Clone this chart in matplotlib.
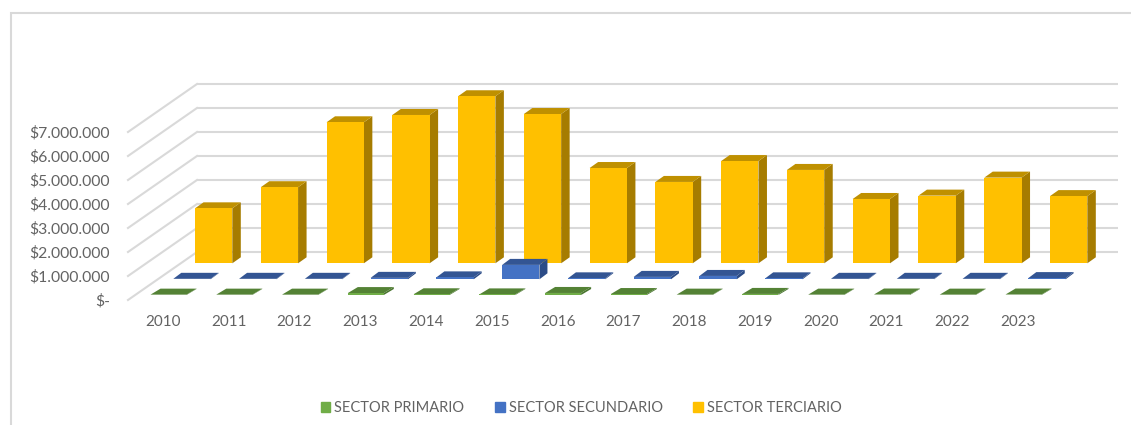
import matplotlib
matplotlib.use("Agg")
import matplotlib.pyplot as plt
from matplotlib.lines import Line2D
from matplotlib.patches import Patch

years = ["2010", "2011", "2012", "2013", "2014", "2015", "2016",
         "2017", "2018", "2019", "2020", "2021", "2022", "2023"]
primario = [15000, 15000, 15000, 80000, 30000, 25000, 85000,
            40000, 15000, 45000, 15000, 20000, 15000, 20000]
secundario = [20000, 20000, 20000, 60000, 80000, 600000, 40000,
              100000, 140000, 40000, 20000, 20000, 20000, 50000]
terciario = [2290000, 3170000, 5875000, 6180000, 6960000, 6220000, 3970000,
             3390000, 4260000, 3890000, 2680000, 2820000, 3570000, 2800000]
y_ticks = [0, 1000000, 2000000, 3000000, 4000000, 5000000, 6000000, 7000000]
y_labels = ["$-", "$1.000.000", "$2.000.000", "$3.000.000",
            "$4.000.000", "$5.000.000", "$6.000.000", "$7.000.000"]

W, H = 1131, 425
PX_X = 65.77            # pixels per category
PX_Y = 24 / 1e6         # pixels per currency unit
GRAY = "#636363"
GRID = "#D9D9D9"
plt.rcParams["font.family"] = ["Lato", "DejaVu Sans"]

fig = plt.figure(figsize=(W / 100, H / 100), dpi=100)
L, R, T, B = 128, 1118, 84, 300
ax = fig.add_axes([L / W, 1 - B / H, (R - L) / W, (B - T) / H])
ax.set_xlim((L - 163) / PX_X, (R - 163) / PX_X)
ax.set_ylim(0, (B - T) / PX_Y)
ax.patch.set_alpha(0)
for s in ax.spines.values():
    s.set_visible(False)


def ox(p):
    return p / PX_X


def oy(p):
    return p / PX_Y


# walls
x0, x1 = ax.get_xlim()
for v in y_ticks:
    ax.plot([x0 + ox(69), x1], [v + oy(48)] * 2, color=GRID, lw=1.5, zorder=1,
            solid_capstyle="butt", clip_on=False)
    ax.plot([x0, x0 + ox(69)], [v, v + oy(48)], color=GRID, lw=1.5, zorder=1,
            clip_on=False)


def bar3d(i, v, shift, base, ddx, ddy, width, cols, z):
    xl = i + ox(shift)
    xr = xl + ox(width)
    y0 = oy(base)
    y1 = y0 + v
    dx, dy = ox(ddx), oy(ddy)
    ax.fill([xr, xr + dx, xr + dx, xr], [y0, y0 + dy, y1 + dy, y1],
            color=cols[2], lw=0, zorder=z)
    ax.fill([xl, xr, xr + dx, xl + dx], [y1, y1, y1 + dy, y1 + dy],
            color=cols[1], lw=0, zorder=z)
    ax.fill([xl, xr, xr, xl], [y0, y0, y1, y1], color=cols[0], lw=0, zorder=z)


Y_COL = ("#FFC000", "#BF9000", "#A67C00")
B_COL = ("#4472C4", "#335593", "#2C4C87")
G_COL = ("#70AD47", "#548235", "#4A7530")
for i, v in enumerate(terciario):
    bar3d(i, v, 32, 36.7, 8.5, 6, 37.3, Y_COL, 3)
for i, v in enumerate(secundario):
    bar3d(i, v, 10.3, 20.7, 8, 6, 37.3, B_COL, 4)
for i, v in enumerate(primario):
    bar3d(i, v, -12.5, 5, 10, 6, 36, G_COL, 5)

ax.set_yticks(y_ticks, y_labels)
ax.set_xticks(range(len(years)), years)
ax.tick_params(axis="y", length=0, pad=13, labelsize=11.3, labelcolor=GRAY)
ax.tick_params(axis="x", length=0, pad=11, labelsize=11, labelcolor=GRAY)

handles = [Patch(color="#70AD47", label="SECTOR PRIMARIO"),
           Patch(color="#4472C4", label="SECTOR SECUNDARIO"),
           Patch(color="#FFC000", label="SECTOR TERCIARIO")]
fig.legend(handles=handles, loc="center", bbox_to_anchor=(581 / W, 1 - 408 / H),
           ncol=3, frameon=False, fontsize=10.55, labelcolor=GRAY,
           handlelength=0.68, handleheight=0.68, handletextpad=0.27,
           columnspacing=2.05, borderpad=0, borderaxespad=0)

# outer frame: only the left and top edges are visible
fig.add_artist(Line2D([11 / W, 11 / W, 1], [0, 1 - 13 / H, 1 - 13 / H],
                      color=GRID, lw=1.5, solid_joinstyle="miter",
                      transform=fig.transFigure))
fig.savefig("out.png", dpi=100)
